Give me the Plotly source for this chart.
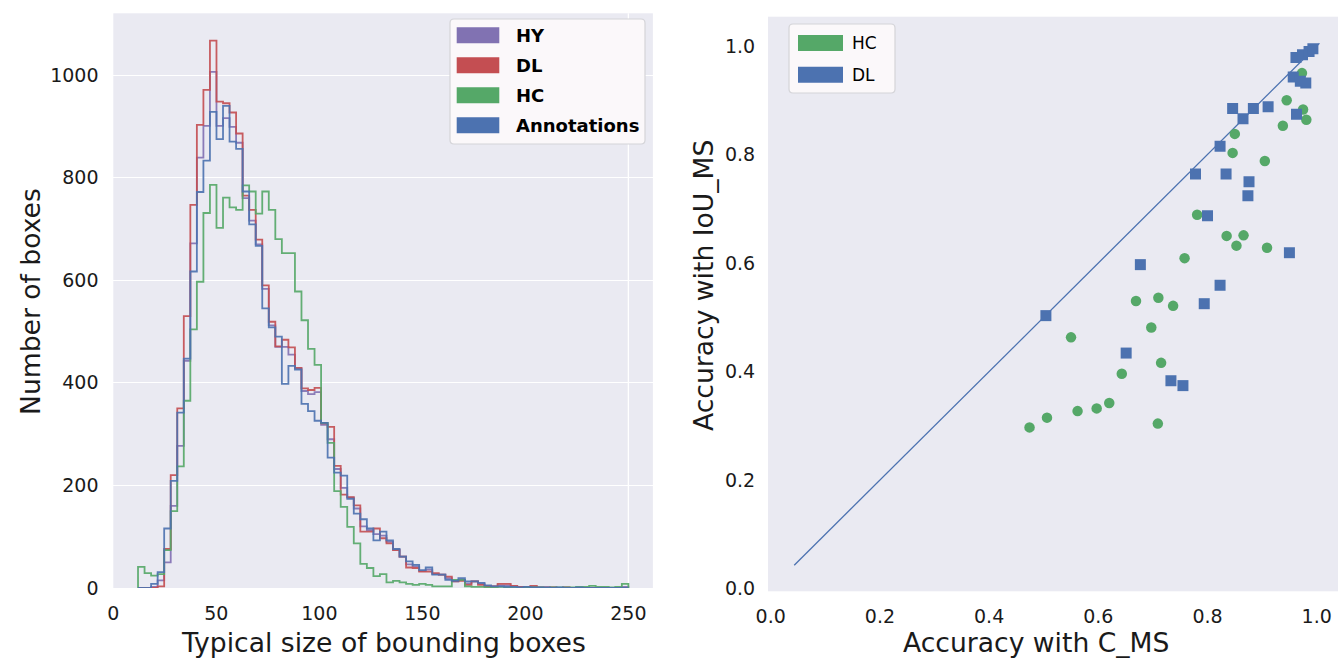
import numpy as np
import plotly.graph_objects as go

W, H = 1338, 658

# ---------------- histogram data (75 shared bins from 12 to 250) ----------------
bin_lo, bin_hi, n_bins = 12.0, 250.0, 75

annotations_counts = [
    0, 0, 8, 31, 116, 209, 342, 447, 617, 772,
    833, 928, 875, 940, 870, 856, 773, 709, 667, 545,
    508, 490, 398, 433, 426, 359, 345, 326, 322, 254,
    225, 219, 174, 145, 134, 116, 93, 110, 93, 76,
    61, 52, 45, 35, 40, 26, 26, 16, 14, 19,
    13, 13, 10, 5, 3, 3, 2, 2, 1, 2,
    1, 1, 1, 0, 1, 0, 0, 1, 0, 0,
    0, 0, 0, 0, 0]
hc_counts = [
    41, 29, 24, 27, 74, 150, 237, 365, 504, 597,
    731, 786, 702, 761, 742, 737, 785, 773, 730, 773,
    737, 680, 653, 653, 578, 522, 466, 435, 322, 283,
    189, 158, 119, 87, 47, 39, 23, 27, 11, 14,
    11, 8, 6, 8, 6, 3, 3, 3, 16, 16,
    3, 2, 2, 1, 1, 2, 1, 1, 0, 1,
    1, 1, 0, 1, 1, 1, 1, 2, 2, 4,
    2, 2, 1, 2, 8]
dl_counts = [
    0, 0, 0, 3, 76, 220, 350, 530, 747, 903,
    971, 1067, 948, 945, 927, 886, 765, 737, 679, 590,
    519, 471, 484, 469, 429, 389, 386, 390, 321, 314,
    238, 182, 177, 161, 110, 110, 116, 97, 87, 74,
    61, 40, 39, 32, 32, 29, 26, 22, 13, 14,
    6, 13, 6, 3, 3, 8, 8, 4, 2, 2,
    4, 1, 1, 1, 0, 1, 0, 0, 0, 0,
    0, 0, 0, 0, 0]
hy_counts = [
    0, 0, 2, 15, 50, 160, 277, 443, 672, 839,
    901, 1006, 901, 916, 899, 868, 760, 716, 670, 583,
    512, 470, 470, 455, 428, 384, 378, 382, 318, 290,
    232, 195, 176, 155, 120, 113, 105, 102, 90, 75,
    61, 46, 42, 33, 36, 27, 26, 19, 13, 16,
    9, 13, 8, 4, 3, 5, 5, 3, 2, 2,
    2, 1, 1, 1, 0, 1, 0, 0, 0, 0,
    0, 0, 0, 0, 2]

hist_xticks = [0, 50, 100, 150, 200, 250]
hist_yticks = [0, 200, 400, 600, 800, 1000]

# ---------------- scatter data ----------------
hc_x = [0.474, 0.506, 0.550, 0.562, 0.597, 0.620, 0.643, 0.669, 0.697, 0.709,
        0.710, 0.715, 0.737, 0.758, 0.781, 0.835, 0.846, 0.853, 0.850, 0.866,
        0.905, 0.909, 0.938, 0.945, 0.973, 0.975, 0.981]
hc_y = [0.297, 0.315, 0.463, 0.327, 0.332, 0.342, 0.396, 0.530, 0.481, 0.304,
        0.536, 0.416, 0.521, 0.609, 0.689, 0.650, 0.803, 0.632, 0.838, 0.651,
        0.788, 0.628, 0.853, 0.900, 0.950, 0.883, 0.864]
dl_x = [0.504, 0.651, 0.677, 0.733, 0.755, 0.778, 0.794, 0.800, 0.823, 0.823,
        0.834, 0.846, 0.865, 0.874, 0.876, 0.884, 0.911, 0.950, 0.957, 0.963,
        0.962, 0.970, 0.974, 0.980, 0.986, 0.993]
dl_y = [0.503, 0.434, 0.597, 0.383, 0.374, 0.764, 0.525, 0.687, 0.815, 0.559,
        0.764, 0.885, 0.866, 0.724, 0.750, 0.885, 0.888, 0.619, 0.943, 0.874,
        0.979, 0.935, 0.984, 0.932, 0.990, 0.995]
diag = [0.043, 1.005]
sc_ticks = [0.0, 0.2, 0.4, 0.6, 0.8, 1.0]

# ---------------- style ----------------
BLUE, GREEN, RED, PURPLE = "#4C72B0", "#55A868", "#C44E52", "#8172B2"
BG = "#EAEAF2"
FONT = "DejaVu Sans"
TXT = "#1a1a1a"


def px_x(p):
    return p / W


def px_y(p):
    return 1 - p / H


edges = np.linspace(bin_lo, bin_hi, n_bins + 1)


def step_xy(counts):
    xs = np.concatenate([[edges[0]], edges[:-1], [edges[-1]]])
    ys = np.concatenate([[0], counts, [0]])
    return xs, ys


fig = go.Figure()

# draw order: HY, DL, HC, Annotations (Annotations on top)
for name, counts, col in [("HY", hy_counts, PURPLE), ("DL", dl_counts, RED),
                          ("HC", hc_counts, GREEN), ("Annotations", annotations_counts, BLUE)]:
    xs, ys = step_xy(counts)
    fig.add_trace(go.Scatter(x=xs, y=ys, mode="lines", line=dict(color=col, width=1.8, shape="hv"),
                             opacity=0.9, name=name, showlegend=False, xaxis="x", yaxis="y",
                             hoverinfo="skip"))

# scatter panel
fig.add_trace(go.Scatter(x=diag, y=diag, mode="lines", line=dict(color=BLUE, width=1.3),
                         showlegend=False, xaxis="x2", yaxis="y2"))
fig.add_trace(go.Scatter(x=hc_x, y=hc_y, mode="markers", name="HC",
                         marker=dict(color=GREEN, size=10.5, symbol="circle", line=dict(width=0)),
                         showlegend=False, xaxis="x2", yaxis="y2"))
fig.add_trace(go.Scatter(x=dl_x, y=dl_y, mode="markers", name="DL",
                         marker=dict(color=BLUE, size=11, symbol="square", line=dict(width=0)),
                         showlegend=False, xaxis="x2", yaxis="y2"))

span = bin_hi - bin_lo
ymax = max(max(annotations_counts), max(hc_counts), max(dl_counts), max(hy_counts)) * 1.05

tickfont = dict(family=FONT, size=19, color=TXT)
common = dict(ticks="outside", tickcolor="rgba(0,0,0,0)", zeroline=False, showline=False,
              tickfont=tickfont, automargin=False)

fig.update_layout(
    width=W, height=H,
    margin=dict(l=0, r=0, t=0, b=0, pad=0),
    paper_bgcolor="white",
    plot_bgcolor=BG,
    showlegend=False,
    xaxis=dict(domain=[px_x(113.3), px_x(652.9)], range=[0, bin_hi + 0.05 * span],
               tickvals=hist_xticks, ticklen=8, showgrid=False, anchor="y", **common),
    yaxis=dict(domain=[px_y(588), px_y(13.3)], range=[0, ymax], tickvals=hist_yticks,
               ticklen=10, showgrid=True, gridcolor="white", gridwidth=1.3, anchor="x", **common),
    xaxis2=dict(domain=[px_x(768), 1.0], range=[-0.005, 1.039], tickvals=sc_ticks,
                tickformat=".1f", ticklen=8, showgrid=False, anchor="y2", **common),
    yaxis2=dict(domain=[px_y(591.3), px_y(16.7)], range=[-0.0051, 1.054], tickvals=sc_ticks,
                tickformat=".1f", ticklen=8, showgrid=False, anchor="x2", **common),
)

shapes = []
# white vertical line at x=250 in the histogram panel
shapes.append(dict(type="line", xref="x", yref="paper", x0=250, x1=250,
                   y0=px_y(588), y1=px_y(13.3), line=dict(color="white", width=1.3), layer="below"))


def rounded_rect(x0, y0, x1, y1, r=4):
    X = lambda v: px_x(v)
    Y = lambda v: px_y(v)
    return (f"M {X(x0 + r)},{Y(y0)} L {X(x1 - r)},{Y(y0)} Q {X(x1)},{Y(y0)} {X(x1)},{Y(y0 + r)} "
            f"L {X(x1)},{Y(y1 - r)} Q {X(x1)},{Y(y1)} {X(x1 - r)},{Y(y1)} "
            f"L {X(x0 + r)},{Y(y1)} Q {X(x0)},{Y(y1)} {X(x0)},{Y(y1 - r)} "
            f"L {X(x0)},{Y(y0 + r)} Q {X(x0)},{Y(y0)} {X(x0 + r)},{Y(y0)} Z")


annotations = []

# left legend
shapes.append(dict(type="path", xref="paper", yref="paper", path=rounded_rect(450, 19, 645, 144),
                   fillcolor="#FBF8FA", line=dict(color="#D4D4D8", width=1.2)))
for i, (name, col) in enumerate([("HY", PURPLE), ("DL", RED), ("HC", GREEN), ("Annotations", BLUE)]):
    cy = 35.3 + 30 * i
    shapes.append(dict(type="rect", xref="paper", yref="paper", x0=px_x(456.7), x1=px_x(499.3),
                       y0=px_y(cy + 8), y1=px_y(cy - 8), fillcolor=col, line=dict(width=0)))
    annotations.append(dict(xref="paper", yref="paper", x=px_x(514), y=px_y(cy), text=f"<b>{name}</b>",
                            showarrow=False, xanchor="left", yanchor="middle",
                            font=dict(family=FONT, size=18, color="black")))

# right legend
shapes.append(dict(type="path", xref="paper", yref="paper", path=rounded_rect(789, 24, 895, 93),
                   fillcolor="#FBF8FA", line=dict(color="#D4D4D8", width=1.2)))
for i, (name, col) in enumerate([("HC", GREEN), ("DL", BLUE)]):
    cy = 43 + 31.7 * i
    shapes.append(dict(type="rect", xref="paper", yref="paper", x0=px_x(798), x1=px_x(843),
                       y0=px_y(cy + 8), y1=px_y(cy - 8), fillcolor=col, line=dict(width=0)))
    annotations.append(dict(xref="paper", yref="paper", x=px_x(850), y=px_y(cy), text=name,
                            showarrow=False, xanchor="left", yanchor="middle",
                            font=dict(family=FONT, size=17, color="black")))

# axis titles
title_font = dict(family=FONT, size=26.6, color=TXT)
annotations.append(dict(xref="paper", yref="paper", x=px_x(383), y=px_y(642), text="Typical size of bounding boxes",
                        showarrow=False, xanchor="center", yanchor="middle", font=title_font))
annotations.append(dict(xref="paper", yref="paper", x=px_x(30), y=px_y(302), text="Number of boxes",
                        showarrow=False, xanchor="center", yanchor="middle", textangle=-90, font=title_font))
annotations.append(dict(xref="paper", yref="paper", x=px_x(1036), y=px_y(642), text="Accuracy with C_MS",
                        showarrow=False, xanchor="center", yanchor="middle", font=title_font))
annotations.append(dict(xref="paper", yref="paper", x=px_x(703), y=px_y(286), text="Accuracy with IoU_MS",
                        showarrow=False, xanchor="center", yanchor="middle", textangle=-90, font=title_font))

fig.update_layout(shapes=shapes, annotations=annotations)

fig.write_html("out.html", config={"displayModeBar": False},
               post_script="document.body.style.margin='0';document.body.style.overflow='hidden';")
